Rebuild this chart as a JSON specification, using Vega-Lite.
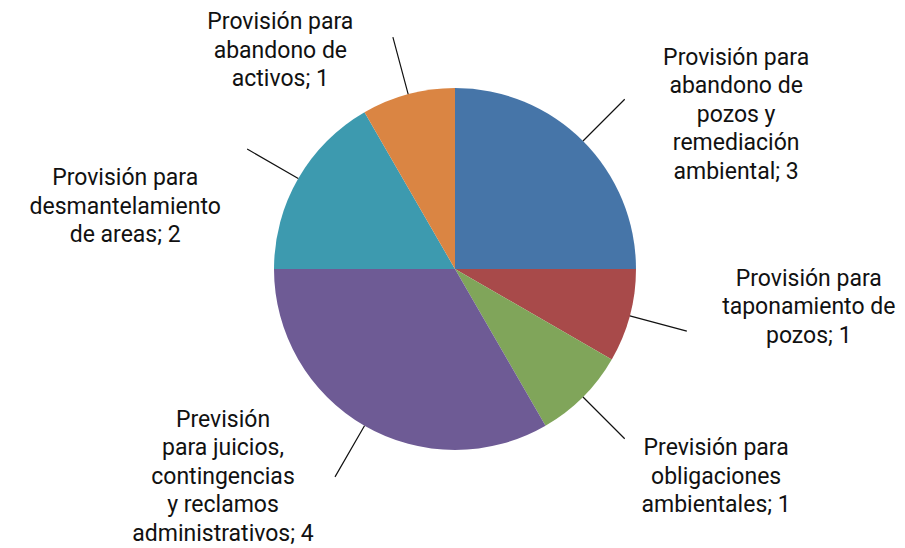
{
  "$schema": "https://vega.github.io/schema/vega-lite/v6.json",
  "width": 900,
  "height": 538,
  "autosize": {"type": "none"},
  "padding": {"left": 5, "top": 0, "right": 0, "bottom": 10},
  "background": "#ffffff",
  "config": {"view": {"stroke": null}, "text": {"font": "Roboto"}},
  "data": {
    "values": [
      {"order": 1, "cat": "abandono_pozos", "value": 3, "label": ["Provisión para", "abandono de", "pozos y", "remediación", "ambiental; 3"]},
      {"order": 2, "cat": "taponamiento", "value": 1, "label": ["Provisión para", "taponamiento de", "pozos; 1"]},
      {"order": 3, "cat": "obligaciones", "value": 1, "label": ["Previsión para", "obligaciones", "ambientales; 1"]},
      {"order": 4, "cat": "juicios", "value": 4, "label": ["Previsión", "para juicios,", "contingencias", "y reclamos", "administrativos; 4"]},
      {"order": 5, "cat": "desmantelamiento", "value": 2, "label": ["Provisión para", "desmantelamiento", "de areas; 2"]},
      {"order": 6, "cat": "activos", "value": 1, "label": ["Provisión para", "abandono de", "activos; 1"]}
    ]
  },
  "transform": [
    {"stack": "value", "groupby": [], "sort": [{"field": "order", "order": "ascending"}], "as": ["t0", "t1"]},
    {"calculate": "(datum.t0 + datum.t1) / 2", "as": "mid"}
  ],
  "layer": [
    {
      "mark": {"type": "arc", "radius": 181},
      "encoding": {
        "theta": {"field": "t0", "type": "quantitative", "stack": null, "scale": {"domain": [0, 12], "range": [0, 6.283185307179586]}},
        "theta2": {"field": "t1"},
        "color": {
          "field": "cat", "type": "nominal", "legend": null,
          "scale": {
            "domain": ["abandono_pozos", "taponamiento", "obligaciones", "juicios", "desmantelamiento", "activos"],
            "range": ["#4675A8", "#A84A4A", "#80A55A", "#6E5B95", "#3D9AAF", "#DA8543"]
          }
        }
      }
    },
    {
      "mark": {"type": "arc", "radius": 240, "radius2": 181, "stroke": "#111111", "strokeWidth": 1.2, "fill": "transparent"},
      "encoding": {
        "theta": {"field": "mid", "type": "quantitative", "stack": null, "scale": {"domain": [0, 12], "range": [0, 6.283185307179586]}},
        "theta2": {"field": "mid"}
      }
    },
    {
      "transform": [{"filter": "datum.order == 1"}],
      "mark": {"type": "text", "radius": 300, "dx": 69, "dy": 1, "fontSize": 23, "lineHeight": 28.5, "align": "center", "baseline": "middle", "color": "#111111"},
      "encoding": {"theta": {"field": "mid", "type": "quantitative", "stack": null, "scale": {"domain": [0, 12], "range": [0, 6.283185307179586]}}, "text": {"field": "label"}}
    },
    {
      "transform": [{"filter": "datum.order == 2"}],
      "mark": {"type": "text", "radius": 300, "dx": 64, "dy": -68, "fontSize": 23, "lineHeight": 28.5, "align": "center", "baseline": "middle", "color": "#111111"},
      "encoding": {"theta": {"field": "mid", "type": "quantitative", "stack": null, "scale": {"domain": [0, 12], "range": [0, 6.283185307179586]}}, "text": {"field": "label"}}
    },
    {
      "transform": [{"filter": "datum.order == 3"}],
      "mark": {"type": "text", "radius": 300, "dx": 49, "dy": -33, "fontSize": 23, "lineHeight": 28.5, "align": "center", "baseline": "middle", "color": "#111111"},
      "encoding": {"theta": {"field": "mid", "type": "quantitative", "stack": null, "scale": {"domain": [0, 12], "range": [0, 6.283185307179586]}}, "text": {"field": "label"}}
    },
    {
      "transform": [{"filter": "datum.order == 4"}],
      "mark": {"type": "text", "radius": 300, "dx": -82, "dy": -109, "fontSize": 23, "lineHeight": 28.5, "align": "center", "baseline": "middle", "color": "#111111"},
      "encoding": {"theta": {"field": "mid", "type": "quantitative", "stack": null, "scale": {"domain": [0, 12], "range": [0, 6.283185307179586]}}, "text": {"field": "label"}}
    },
    {
      "transform": [{"filter": "datum.order == 5"}],
      "mark": {"type": "text", "radius": 300, "dx": -70, "dy": 59, "fontSize": 23, "lineHeight": 28.5, "align": "center", "baseline": "middle", "color": "#111111"},
      "encoding": {"theta": {"field": "mid", "type": "quantitative", "stack": null, "scale": {"domain": [0, 12], "range": [0, 6.283185307179586]}}, "text": {"field": "label"}}
    },
    {
      "transform": [{"filter": "datum.order == 6"}],
      "mark": {"type": "text", "radius": 300, "dx": -97, "dy": 43, "fontSize": 23, "lineHeight": 28.5, "align": "center", "baseline": "middle", "color": "#111111"},
      "encoding": {"theta": {"field": "mid", "type": "quantitative", "stack": null, "scale": {"domain": [0, 12], "range": [0, 6.283185307179586]}}, "text": {"field": "label"}}
    }
  ]
}
